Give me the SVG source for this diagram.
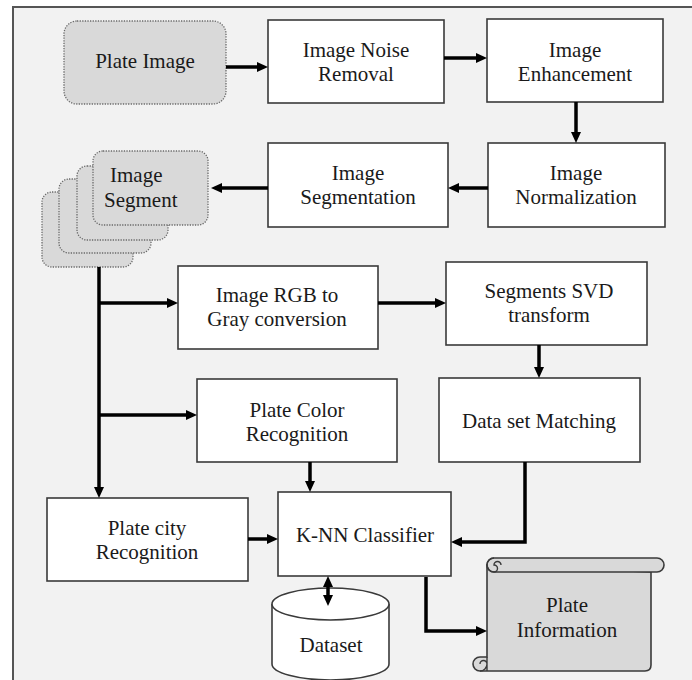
<svg xmlns="http://www.w3.org/2000/svg" width="692" height="680" viewBox="0 0 692 680">
<defs>
<marker id="ah" markerUnits="userSpaceOnUse" markerWidth="11" markerHeight="10" refX="2" refY="5" orient="auto-start-reverse">
<path d="M0,0 L11,5 L0,10 z" fill="#000"/>
</marker>
<style>
.box{fill:#fff;stroke:#3a3a3a;stroke-width:1.6}
.soft{fill:#d9d9d9;stroke:#6a6a6a;stroke-width:1.3;stroke-dasharray:1.3 1.3}
.scroll{fill:#d9d9d9;stroke:#3a3a3a;stroke-width:1.6}
.c{fill:none;stroke:#000;stroke-width:3.5}
.a{marker-end:url(#ah)}
text{font-family:'Liberation Serif','DejaVu Serif','Times New Roman',Times,serif;font-size:21px;fill:#1a1a1a;text-anchor:middle}
</style>
</defs>
<rect x="0" y="0" width="692" height="680" fill="#fff"/>
<rect x="13" y="7" width="700" height="700" fill="#f2f2f2" stroke="#555" stroke-width="2"/>

<g id="plate-image">
<rect class="soft" x="64" y="21" width="162" height="83" rx="13"/>
<text x="145" y="68">Plate Image</text>
</g>
<g id="noise-removal">
<rect class="box" x="268" y="20" width="176" height="83"/>
<text x="356" y="57">Image Noise</text>
<text x="356" y="81">Removal</text>
</g>
<g id="enhancement">
<rect class="box" x="487" y="19" width="176" height="83"/>
<text x="575" y="57">Image</text>
<text x="575" y="81">Enhancement</text>
</g>
<g id="normalization">
<rect class="box" x="488" y="143" width="177" height="84"/>
<text x="576" y="180">Image</text>
<text x="576" y="204">Normalization</text>
</g>
<g id="segmentation">
<rect class="box" x="268" y="143" width="180" height="84"/>
<text x="358" y="180">Image</text>
<text x="358" y="204">Segmentation</text>
</g>
<g id="image-segment">
<rect class="soft" x="42" y="192" width="91" height="75" rx="10"/>
<rect class="soft" x="59" y="179" width="92" height="74" rx="10"/>
<rect class="soft" x="77" y="166" width="91" height="74" rx="10"/>
<rect class="soft" x="93" y="151" width="115" height="74" rx="10"/>
<text x="110" y="182" style="text-anchor:start">Image</text>
<text x="104" y="207" style="text-anchor:start">Segment</text>
</g>
<g id="rgb-gray">
<rect class="box" x="178" y="266" width="200" height="83"/>
<text x="277" y="302">Image RGB to</text>
<text x="277" y="326">Gray conversion</text>
</g>
<g id="svd">
<rect class="box" x="446" y="262" width="201" height="83"/>
<text x="549" y="298">Segments SVD</text>
<text x="549" y="322">transform</text>
</g>
<g id="plate-color">
<rect class="box" x="197" y="379" width="200" height="83"/>
<text x="297" y="417">Plate Color</text>
<text x="297" y="441">Recognition</text>
</g>
<g id="dataset-matching">
<rect class="box" x="439" y="378" width="201" height="84"/>
<text x="539" y="428">Data set Matching</text>
</g>
<g id="plate-city">
<rect class="box" x="47" y="498" width="201" height="83"/>
<text x="147" y="535">Plate city</text>
<text x="147" y="559">Recognition</text>
</g>
<g id="knn">
<rect class="box" x="278" y="492" width="173" height="84"/>
<text x="365" y="542">K-NN Classifier</text>
</g>
<g id="dataset">
<path class="box" d="M272,604 L272,664 A58.5,16 0 0 0 389,664 L389,604"/>
<ellipse class="box" cx="330.5" cy="604" rx="58.5" ry="16"/>
<text x="331" y="652">Dataset</text>
</g>
<g id="plate-information">
<path class="scroll" d="M487,565 L487,657 L480,657 A7,7 0 0 0 480,671 L645,671 Q651,671 651,665 L651,572 Z"/>
<path fill="none" stroke="#3a3a3a" stroke-width="1.4" d="M480,671 A7,7 0 0 0 487,664 A3.5,3.5 0 0 0 480,664 M487,657 L487,671"/>
<rect class="scroll" x="487" y="558" width="177" height="14" rx="7"/>
<path fill="none" stroke="#3a3a3a" stroke-width="1.4" d="M494,572 A7,7 0 0 1 494,558 M494,572 A3.5,3.5 0 0 0 494,565 A3.5,3.5 0 0 1 501,565"/>
<text x="567" y="612">Plate</text>
<text x="567" y="637">Information</text>
</g>

<g id="connectors">
<line class="c a" x1="226" y1="67" x2="259" y2="67"/>
<line class="c a" x1="444" y1="58" x2="478" y2="58"/>
<line class="c a" x1="576" y1="102" x2="576" y2="134"/>
<line class="c a" x1="488" y1="188" x2="457" y2="188"/>
<line class="c a" x1="268" y1="188" x2="220" y2="188"/>
<line class="c a" x1="99" y1="267" x2="99" y2="489"/>
<line class="c a" x1="99" y1="303" x2="169" y2="303"/>
<line class="c a" x1="99" y1="415" x2="188" y2="415"/>
<line class="c a" x1="378" y1="303" x2="437" y2="303"/>
<line class="c a" x1="539" y1="345" x2="539" y2="369"/>
<line class="c a" x1="310" y1="462" x2="310" y2="483"/>
<polyline class="c a" points="525,462 525,542 460,542"/>
<line class="c a" x1="248" y1="539" x2="269" y2="539"/>
<line class="c" x1="328" y1="585" x2="328" y2="597" marker-start="url(#ah)" marker-end="url(#ah)"/>
<polyline class="c a" points="426,577 426,631 478,631"/>
</g>
</svg>
